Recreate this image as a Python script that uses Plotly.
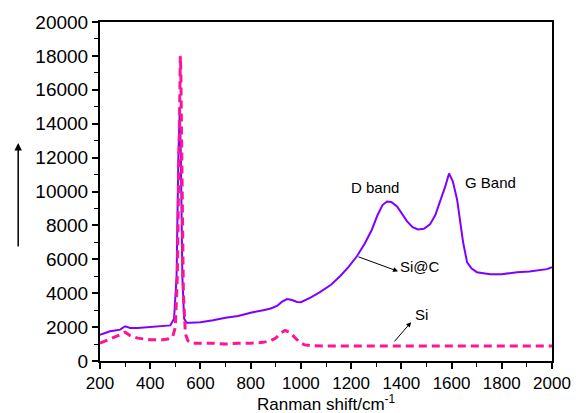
import plotly.graph_objects as go

# Si@C spectrum (purple, solid)
sic_x = [200, 220, 240, 260, 280, 300, 320, 350, 400, 450, 480, 495, 505, 512, 518, 522, 528, 535, 545, 560,
         600, 650, 700, 750, 800, 850, 880, 905, 925, 945, 965, 985, 1000, 1040, 1076, 1120, 1156, 1190, 1223,
         1255, 1283, 1305, 1325, 1343, 1360, 1383, 1405, 1423, 1445, 1466, 1490, 1514, 1535, 1554, 1575, 1590,
         1605, 1622, 1646, 1662, 1680, 1701, 1730, 1753, 1800, 1861, 1910, 1952, 1980, 2000]
sic_y = [1550, 1650, 1750, 1800, 1850, 2050, 1950, 1950, 2000, 2050, 2100, 2500, 5000, 12000, 15000, 12000,
         5000, 2500, 2250, 2250, 2290, 2400, 2550, 2650, 2850, 3000, 3100, 3250, 3500, 3650, 3600, 3480, 3470,
         3750, 4060, 4500, 5000, 5550, 6180, 6950, 7760, 8600, 9200, 9410, 9380, 9120, 8650, 8240, 7900, 7760,
         7800, 8060, 8600, 9350, 10300, 11060, 10600, 9530, 7000, 5820, 5450, 5240, 5150, 5120, 5120, 5240,
         5280, 5350, 5420, 5530]

# Si spectrum (pink, dashed)
si_x = [200, 250, 280, 300, 320, 350, 400, 450, 470, 490, 500, 508, 514, 518, 520, 522, 526, 532, 540, 550,
        570, 600, 650, 700, 750, 800, 850, 880, 900, 920, 937, 955, 975, 995, 1015, 1050, 1100, 1200, 1400,
        1600, 1800, 2000]
si_y = [1050, 1350, 1550, 1700, 1500, 1350, 1250, 1250, 1300, 1450, 2000, 5000, 12000, 17000, 18000, 17000,
        10000, 4000, 1600, 1200, 1050, 1050, 1050, 1000, 1050, 1050, 1100, 1200, 1350, 1650, 1800, 1700, 1400,
        1100, 950, 900, 880, 880, 880, 880, 880, 880]

x_ticks = [200, 400, 600, 800, 1000, 1200, 1400, 1600, 1800, 2000]
y_ticks = [0, 2000, 4000, 6000, 8000, 10000, 12000, 14000, 16000, 18000, 20000]

FONT = "Arial, Liberation Sans, sans-serif"

fig = go.Figure()
fig.add_trace(go.Scatter(x=sic_x, y=sic_y, mode="lines", name="Si@C",
                         line=dict(color="#8000FF", width=2)))
fig.add_trace(go.Scatter(x=si_x, y=si_y, mode="lines", name="Si",
                         line=dict(color="#FF1493", width=3, dash="8px,5px")))

fig.update_layout(
    width=579, height=413,
    margin=dict(l=100, r=27, t=22, b=52, autoexpand=False),
    paper_bgcolor="white", plot_bgcolor="white",
    showlegend=False,
    font=dict(family=FONT, color="black"),
)
fig.update_xaxes(
    range=[200, 2000], tickvals=x_ticks, ticktext=[str(v) for v in x_ticks],
    showgrid=False, zeroline=False, automargin=False,
    showline=True, linecolor="black", linewidth=2, mirror=True,
    ticks="outside", ticklen=6, tickwidth=1.5, tickcolor="black",
    minor=dict(dtick=100, tick0=200, ticks="outside", ticklen=4, tickcolor="black", tickwidth=1),
    tickfont=dict(size=17, family=FONT),
)
fig.update_yaxes(
    range=[0, 20000], tickvals=y_ticks, ticktext=[str(v) for v in y_ticks],
    showgrid=False, zeroline=False, automargin=False,
    showline=True, linecolor="black", linewidth=2, mirror=True,
    ticks="outside", ticklen=6, tickwidth=1.5, tickcolor="black",
    minor=dict(dtick=1000, tick0=0, ticks="outside", ticklen=4, tickcolor="black", tickwidth=1),
    tickfont=dict(size=19, family=FONT),
)

ann_font = dict(size=15, family=FONT, color="black")
# x-axis title
fig.add_annotation(xref="paper", yref="paper", x=0.5, y=-0.085, yanchor="top",
                   text="Ranman shift/cm<sup>-1</sup>", showarrow=False,
                   font=dict(size=17, family=FONT, color="black"))
fig.add_annotation(x=1295, y=10235, text="D band", showarrow=False, font=ann_font)
fig.add_annotation(x=1757, y=10530, text="G Band", showarrow=False, font=ann_font)
# Si@C label with arrow
fig.add_annotation(x=1387, y=5290, ax=1223, ay=6180, axref="x", ayref="y", text="",
                   showarrow=True, arrowhead=2, arrowsize=1, arrowwidth=1, arrowcolor="black")
fig.add_annotation(x=1474, y=5590, text="Si@C", showarrow=False, font=ann_font)
# Si label with arrow
fig.add_annotation(x=1439, y=2290, ax=1367, ay=1060, axref="x", ayref="y", text="",
                   showarrow=True, arrowhead=2, arrowsize=1, arrowwidth=1, arrowcolor="black")
fig.add_annotation(x=1482, y=2760, text="Si", showarrow=False, font=ann_font)
# vertical arrow on the left (intensity direction)
fig.add_annotation(xref="paper", yref="paper", x=-0.181, y=0.643, ax=0, ay=105, text="",
                   showarrow=True, arrowhead=2, arrowsize=1, arrowwidth=1.5, arrowcolor="black")

fig.write_html("out.html", config={"displayModeBar": False},
               post_script="document.body.style.margin='0';document.body.style.overflow='hidden';")
